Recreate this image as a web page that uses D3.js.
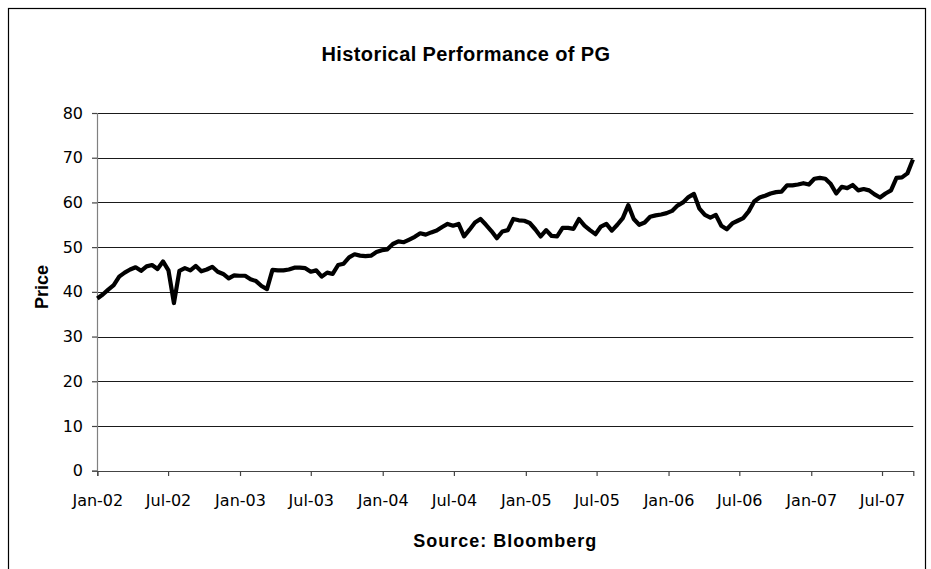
<!DOCTYPE html>
<html>
<head>
<meta charset="utf-8">
<script src="https://cdn.jsdelivr.net/npm/d3@7"></script>
<style>
    body { margin: 0; background: #fff; }
    svg { display: block; }
</style>
</head>
<body>
<div id="chart"></div>
<script>
var startDate = "2002-01-01";
var stepDays = 14;
var prices = [
    38.5, 39.4, 40.5, 41.5, 43.4, 44.3, 45.0, 45.5, 44.7, 45.7,
    46.0, 45.1, 46.8, 44.8, 37.5, 44.7, 45.3, 44.8, 45.8, 44.6,
    45.0, 45.6, 44.5, 44.0, 43.0, 43.7, 43.6, 43.6, 42.8, 42.4,
    41.3, 40.6, 44.9, 44.8, 44.8, 45.0, 45.4, 45.4, 45.3, 44.5,
    44.8, 43.4, 44.3, 44.0, 46.0, 46.3, 47.7, 48.4, 48.1, 48.0,
    48.1, 48.9, 49.3, 49.5, 50.7, 51.3, 51.1, 51.7, 52.3, 53.1,
    52.8, 53.3, 53.7, 54.5, 55.2, 54.8, 55.2, 52.4, 53.9, 55.5,
    56.3, 55.0, 53.6, 52.0, 53.5, 53.8, 56.3, 56.0, 55.9, 55.4,
    54.0, 52.4, 53.8, 52.5, 52.4, 54.3, 54.3, 54.1, 56.3, 54.8,
    53.8, 52.9, 54.6, 55.2, 53.7, 55.0, 56.5, 59.4, 56.3, 55.0,
    55.5, 56.8, 57.1, 57.3, 57.6, 58.1, 59.3, 60.0, 61.2, 61.9,
    58.6, 57.2, 56.6, 57.2, 54.8, 54.0, 55.3, 55.9, 56.5, 58.0,
    60.2, 61.1, 61.5, 62.0, 62.3, 62.4, 63.8, 63.8, 64.0, 64.3,
    64.0, 65.3, 65.5, 65.3, 64.1, 62.0, 63.5, 63.2, 63.9, 62.7,
    63.0, 62.7, 61.8, 61.1, 62.0, 62.7, 65.5, 65.6, 66.5, 69.6
];
var xTickLabels = ["Jan-02", "Jul-02", "Jan-03", "Jul-03", "Jan-04", "Jul-04",
    "Jan-05", "Jul-05", "Jan-06", "Jul-06", "Jan-07", "Jul-07"];
var yTicks = [0, 10, 20, 30, 40, 50, 60, 70, 80];
var xDomain = ["2002-01-01", "2007-09-19"];

var chartTitle = "Historical Performance of PG";
var yTitle = "Price";
var xTitle = "Source: Bloomberg";

var width = 931, height = 569;
var plot = { left: 97.3, right: 913.3, top: 113, bottom: 470.7 };

function drawChart() {
    let parseDay = d3.timeParse("%Y-%m-%d");
    let parseTick = d3.timeParse("%b-%y");
    let start = parseDay(startDate);

    let data = prices.map(function(p, i) {
        return { date: d3.timeDay.offset(start, i * stepDays), price: p };
    });

    let x = d3.scaleTime()
        .domain(xDomain.map(parseDay))
        .range([plot.left, plot.right]);
    let y = d3.scaleLinear()
        .domain([0, 80])
        .range([plot.bottom, plot.top]);

    let svg = d3.select("#chart").append("svg")
        .attr("width", width)
        .attr("height", height);

    // chart frame (bottom edge falls outside the window)
    svg.append("rect")
        .attr("x", 8.5).attr("y", 8.5)
        .attr("width", 917).attr("height", 600)
        .attr("fill", "#fff")
        .attr("stroke", "#000")
        .attr("stroke-width", 1.2);

    // horizontal gridlines
    svg.append("g")
        .selectAll("line")
        .data(yTicks.filter(function(t) { return t > 0; }))
        .enter()
        .append("line")
        .attr("x1", plot.left)
        .attr("x2", plot.right)
        .attr("y1", function(d) { return Math.round(y(d)) + 0.5; })
        .attr("y2", function(d) { return Math.round(y(d)) + 0.5; })
        .attr("stroke", "#1a1a1a")
        .attr("stroke-width", 1);

    let yAxis = d3.axisLeft(y)
        .tickValues(yTicks)
        .tickSize(5)
        .tickPadding(9)
        .tickFormat(d3.format("d"));
    let gy = svg.append("g")
        .attr("transform", "translate(" + Math.round(plot.left) + ",0)")
        .call(yAxis);

    let xAxis = d3.axisBottom(x)
        .tickValues(xTickLabels.map(parseTick))
        .tickSize(5)
        .tickPadding(19)
        .tickFormat(d3.timeFormat("%b-%y"));
    let gx = svg.append("g")
        .attr("transform", "translate(0," + Math.round(plot.bottom) + ")")
        .call(xAxis);

    [gx, gy].forEach(function(g) {
        g.selectAll(".domain").attr("stroke", "#444").attr("stroke-width", 1.2);
        g.selectAll(".tick line").attr("stroke", "#444").attr("stroke-width", 1.2);
        g.selectAll("text")
            .attr("fill", "#000")
            .style("font-family", "'DejaVu Sans', Verdana, sans-serif")
            .style("font-size", "16px");
    });
    gy.selectAll(".domain").attr("stroke", "#808080");

    let line = d3.line()
        .x(function(d) { return x(d.date); })
        .y(function(d) { return y(d.price); });

    svg.append("path")
        .datum(data)
        .attr("d", line)
        .attr("fill", "none")
        .attr("stroke", "#000")
        .attr("stroke-width", 4.2)
        .attr("stroke-linejoin", "round");

    // titles
    svg.append("text")
        .attr("x", 466)
        .attr("y", 61)
        .attr("text-anchor", "middle")
        .style("font-family", "'Liberation Sans', Arial, sans-serif")
        .style("font-weight", "bold")
        .style("font-size", "20px")
        .style("letter-spacing", "0.4px")
        .text(chartTitle);

    svg.append("text")
        .attr("transform", "translate(48," + 287 + ") rotate(-90)")
        .attr("text-anchor", "middle")
        .style("font-family", "'Liberation Sans', Arial, sans-serif")
        .style("font-weight", "bold")
        .style("font-size", "18px")
        .text(yTitle);

    svg.append("text")
        .attr("x", (plot.left + plot.right) / 2)
        .attr("y", 547)
        .attr("text-anchor", "middle")
        .style("font-family", "'Liberation Sans', Arial, sans-serif")
        .style("font-weight", "bold")
        .style("font-size", "18px")
        .style("letter-spacing", "1px")
        .text(xTitle);
}

drawChart();
</script>
</body>
</html>
